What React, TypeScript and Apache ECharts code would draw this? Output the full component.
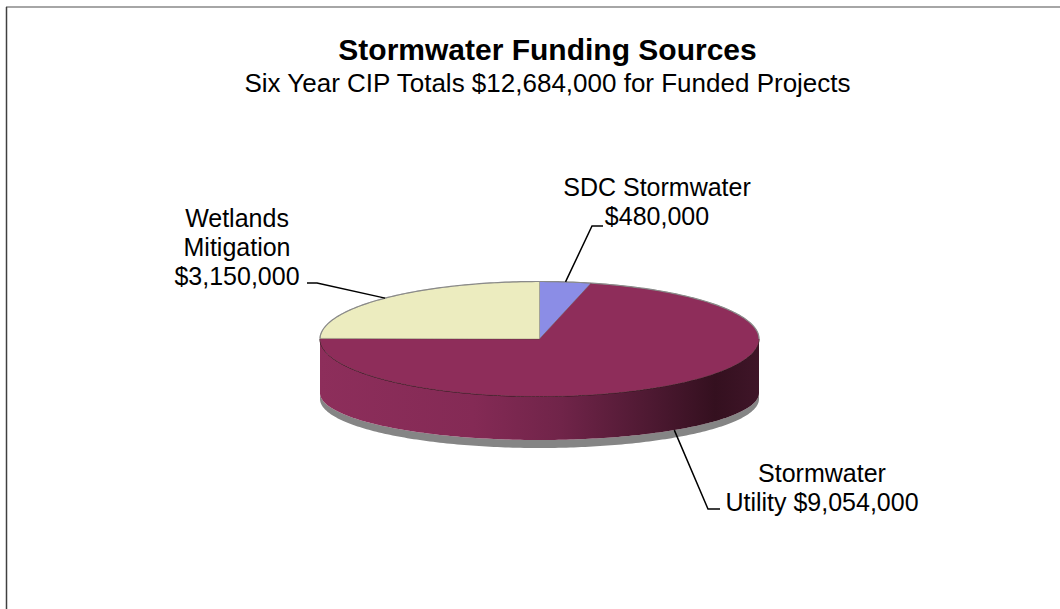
import React, { useEffect, useRef } from 'react';
import * as echarts from 'echarts';

// ---- data ----
const categories = ['SDC Stormwater', 'Stormwater Utility', 'Wetlands Mitigation'];
const values = [480000, 9054000, 3150000];
const labelTemplates = ['SDC Stormwater\n{v}', 'Stormwater\nUtility {v}', 'Wetlands\nMitigation\n{v}'];
const titleText = 'Stormwater Funding Sources';
const subtitleText = 'Six Year CIP Totals $12,684,000 for Funded Projects';

// ---- styles / layout ----
const topColors = ['#8b8de6', '#8e2d5a', '#ececbf'];
const FONT = '"Liberation Sans", Arial, sans-serif';
const PIE = { cx: 539.5, cy: 339, rx: 219.5, ry: 57.5, bcy: 393, bry: 47 };
const labelLayout = [
  { tx: 657, ty: 201, elbow: [592, 226], end: [603, 226], anchor: 'top' },
  { tx: 822, ty: 487.5, elbow: [708, 509], end: [720, 509], anchor: 'bottom' },
  { tx: 237, ty: 247, elbow: [317, 283], end: [307, 283], anchor: 'top' },
];

const total = values.reduce((a, b) => a + b, 0);
const fmt = (v: number) => '$' + v.toLocaleString('en-US');

function sliceAngles(i: number): [number, number] {
  let s = 0;
  for (let j = 0; j < i; j++) s += values[j];
  return [(s / total) * 360, ((s + values[i]) / total) * 360];
}
function pt(theta: number, cy: number, ry: number): number[] {
  const r = (theta * Math.PI) / 180;
  return [PIE.cx + PIE.rx * Math.sin(r), cy - ry * Math.cos(r)];
}
function arcPts(a1: number, a2: number, cy: number, ry: number): number[][] {
  const n = Math.max(2, Math.ceil(Math.abs(a2 - a1) / 1));
  const pts: number[][] = [];
  for (let k = 0; k <= n; k++) pts.push(pt(a1 + ((a2 - a1) * k) / n, cy, ry));
  return pts;
}

const sideGradient = () =>
  new echarts.graphic.LinearGradient(
    PIE.cx - PIE.rx, 0, PIE.cx + PIE.rx, 0,
    [
      { offset: 0, color: '#8d2e5b' },
      { offset: 0.35, color: '#842a55' },
      { offset: 0.55, color: '#702449' },
      { offset: 0.75, color: '#4e1932' },
      { offset: 0.9, color: '#34101f' },
      { offset: 1, color: '#3f1528' },
    ],
    true
  );

export default function App() {
  const ref = useRef<HTMLDivElement>(null);
  useEffect(() => {
    if (!ref.current) return;
    const chart = echarts.init(ref.current, undefined, { renderer: 'svg' });
    const data = values.map((v, i) => ({ value: v, name: categories[i] }));

    const option: any = {
      animation: false,
      backgroundColor: '#ffffff',
      graphic: [
        { type: 'line', shape: { x1: 6, y1: 7, x2: 1060, y2: 7 }, style: { stroke: '#a6a6a6', lineWidth: 2 }, silent: true },
        { type: 'line', shape: { x1: 6.5, y1: 7, x2: 6.5, y2: 609 }, style: { stroke: '#404040', lineWidth: 1.5 }, silent: true },
        {
          type: 'text', x: 547.5, y: 49,
          style: { text: titleText, font: `bold 30px ${FONT}`, fill: '#000', align: 'center', verticalAlign: 'middle', textAlign: 'center', textVerticalAlign: 'middle' },
        },
        {
          type: 'text', x: 547.5, y: 82.5,
          style: { text: subtitleText, font: `26px ${FONT}`, fill: '#000', align: 'center', verticalAlign: 'middle', textAlign: 'center', textVerticalAlign: 'middle' },
        },
      ],
      series: [
        {
          // side walls + shadow
          type: 'custom',
          coordinateSystem: 'none',
          silent: true,
          data,
          renderItem: (params: any) => {
            const i = params.dataIndex;
            const [a1, a2] = sliceAngles(i);
            const lo = Math.max(a1, 90);
            const hi = Math.min(a2, 270);
            if (lo >= hi) return { type: 'group', children: [] };
            const topArc = arcPts(lo, hi, PIE.cy, PIE.ry);
            const botArc = arcPts(lo, hi, PIE.bcy, PIE.bry);
            const shadowArc = arcPts(lo, hi, PIE.bcy + 6, PIE.bry + 2);
            return {
              type: 'group',
              children: [
                {
                  type: 'polygon',
                  shape: { points: botArc.concat(shadowArc.slice().reverse()) },
                  style: { fill: '#858585' },
                },
                {
                  type: 'polygon',
                  shape: { points: topArc.concat(botArc.slice().reverse()) },
                  style: { fill: sideGradient() },
                },
                {
                  type: 'polyline',
                  shape: { points: topArc },
                  style: { stroke: '#2e0c1a', lineWidth: 1, fill: null },
                },
              ],
            };
          },
        },
        {
          // top faces
          type: 'custom',
          coordinateSystem: 'none',
          silent: true,
          data,
          renderItem: (params: any) => {
            const i = params.dataIndex;
            const [a1, a2] = sliceAngles(i);
            const pts = [[PIE.cx, PIE.cy]].concat(arcPts(a1, a2, PIE.cy, PIE.ry));
            const children: any[] = [
              {
                type: 'polygon',
                shape: { points: pts },
                style: { fill: topColors[i], stroke: 'rgba(70,70,50,0.35)', lineWidth: 0.8 },
              },
            ];
            const ranges: number[][] = [
              [Math.max(a1, 0), Math.min(a2, 90)],
              [Math.max(a1, 270), Math.min(a2, 360)],
            ];
            ranges.forEach(([lo, hi]) => {
              if (hi > lo) {
                children.push({
                  type: 'polyline',
                  shape: { points: arcPts(lo, hi, PIE.cy, PIE.ry) },
                  style: { stroke: '#8a8a8a', lineWidth: 1.2, fill: null },
                });
              }
            });
            return { type: 'group', children };
          },
        },
        {
          // labels with leader lines
          type: 'custom',
          coordinateSystem: 'none',
          silent: true,
          data,
          renderItem: (params: any, api: any) => {
            const i = params.dataIndex;
            const [a1, a2] = sliceAngles(i);
            const mid = (a1 + a2) / 2;
            const L = labelLayout[i];
            const anchor = L.anchor === 'bottom' ? pt(mid, PIE.bcy, PIE.bry) : pt(mid, PIE.cy, PIE.ry);
            const v = api.value(0);
            return {
              type: 'group',
              children: [
                {
                  type: 'polyline',
                  shape: { points: [anchor, L.elbow, L.end] },
                  style: { stroke: '#000', lineWidth: 1.5, fill: null },
                },
                {
                  type: 'text',
                  x: L.tx,
                  y: L.ty,
                  style: {
                    text: labelTemplates[i].replace('{v}', fmt(v)),
                    font: `25px ${FONT}`,
                    lineHeight: 29,
                    fill: '#000',
                    align: 'center',
                    verticalAlign: 'middle',
                    textAlign: 'center',
                    textVerticalAlign: 'middle',
                  },
                },
              ],
            };
          },
        },
      ],
    };
    chart.setOption(option);
    return () => chart.dispose();
  }, []);
  return (
    <div
      ref={ref}
      style={{ position: 'absolute', left: 0, top: 0, width: 1060, height: 609 }}
    />
  );
}
